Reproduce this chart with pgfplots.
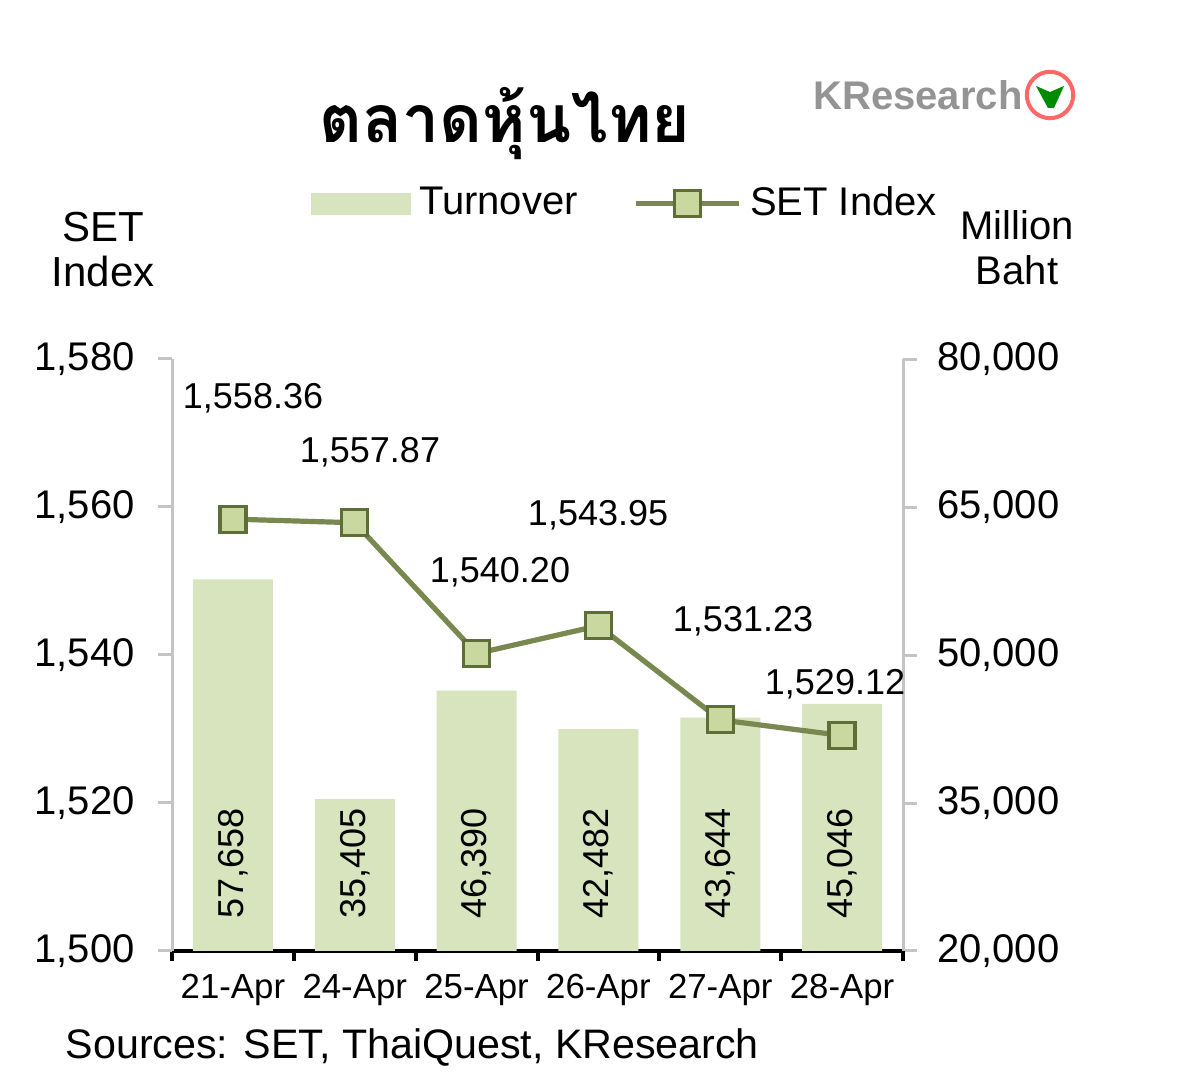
\documentclass[border=0pt]{standalone}
\usepackage{pgfplots}
\pgfplotsset{compat=1.18}
\usepackage{fontspec}
\setmainfont{Liberation Sans}
\newfontfamily\thaifont[Script=Thai]{Loma}
\definecolor{barcol}{HTML}{D7E4BD}
\definecolor{linecol}{HTML}{77894F}
\definecolor{markfill}{HTML}{C8D89F}
\definecolor{markdraw}{HTML}{5E6E37}
\definecolor{axgray}{HTML}{C4C4C4}
\begin{document}
\begin{tikzpicture}
\path[use as bounding box] (0,0) rectangle (300pt,273pt);
\pgfplotsset{
 base/.style={scale only axis, width=182.75pt, height=148pt, at={(43pt,35.25pt)}, anchor=south west,
   xmin=-0.5, xmax=5.5,
   /pgf/number format/assume math mode=true, /pgf/number format/1000 sep={,},
   tick label style={font=\fontsize{10}{12}\selectfont},
   clip=false, tick align=outside, major tick length=3.5pt},
}
% Turnover bars, right axis
\begin{axis}[base, ymin=20000, ymax=80000, axis y line*=right, axis x line*=bottom,
  ytick={20000,35000,50000,65000,80000}, scaled y ticks=false,
  yticklabel style={xshift=1.5pt},
  xtick={0,...,5}, xticklabels={21-Apr,24-Apr,25-Apr,26-Apr,27-Apr,28-Apr},
  xticklabel style={font=\fontsize{8.7}{10}\selectfont, yshift=1.2pt},
  xtick style={draw=none},
  extra x ticks={-0.5,0.5,1.5,2.5,3.5,4.5,5.5}, extra x tick labels={},
  extra x tick style={xtick style={draw=black, line width=1pt}, major tick length=2.5pt},
  x axis line style={black, line width=1pt, -},
  y axis line style={axgray, line width=0.75pt, -},
  ytick style={axgray, line width=0.75pt},
  ]
\addplot[ybar, bar width=20pt, fill=barcol, draw=none] coordinates {(0,57658)(1,35405)(2,46390)(3,42482)(4,43644)(5,45046)};
\begin{scope}[every node/.style={rotate=90, font=\fontsize{9}{11}\selectfont}]
\node at (axis cs:0,28900) {57,658};
\node at (axis cs:1,28900) {35,405};
\node at (axis cs:2,28900) {46,390};
\node at (axis cs:3,28900) {42,482};
\node at (axis cs:4,28900) {43,644};
\node at (axis cs:5,28900) {45,046};
\end{scope}
\end{axis}
% SET Index line, left axis
\begin{axis}[base, ymin=1500, ymax=1580, axis y line*=left, axis x line=none,
  ytick={1500,1520,1540,1560,1580},
  yticklabel style={xshift=-2.3pt},
  y axis line style={axgray, line width=0.75pt, -},
  ytick style={axgray, line width=0.75pt},
  legend style={draw=none, fill=none, at={(0.624,1.262)}, anchor=center, legend columns=2,
    font=\fontsize{10}{12}\selectfont, /tikz/every even column/.append style={column sep=12pt}},
  ]
\addlegendimage{legend image code/.code={\fill[barcol] (0pt,-2.5pt) rectangle (24.5pt,2.5pt);}}
\addlegendentry{Turnover}
\addplot[linecol, line width=1.3pt, mark=square*, mark size=3.25pt,
  mark options={fill=markfill, draw=markdraw, line width=0.8pt},
  legend image code/.code={\draw[linecol, line width=1.3pt] (0pt,0pt) -- (25.8pt,0pt);
     \draw[fill=markfill, draw=markdraw, line width=0.8pt] (9.65pt,-3.25pt) rectangle (16.15pt,3.25pt);}]
  coordinates {(0,1558.36)(1,1557.87)(2,1540.20)(3,1543.95)(4,1531.23)(5,1529.12)};
\addlegendentry{SET Index}
\begin{scope}[every node/.style={font=\fontsize{9}{11}\selectfont}]
\node at (axis cs:0.165,1574.7) {1,558.36};
\node at (axis cs:1.125,1567.4) {1,557.87};
\node at (axis cs:2.192,1551.2) {1,540.20};
\node at (axis cs:2.997,1558.9) {1,543.95};
\node at (axis cs:4.187,1544.5) {1,531.23};
\node at (axis cs:4.942,1536.1) {1,529.12};
\end{scope}
\end{axis}
% titles and labels
\node[font=\thaifont\bfseries\fontsize{16.5}{20}\selectfont, inner sep=0pt] at (126.25pt,242pt) {ตลาดหุ้นไทย};
\node[font=\bfseries\fontsize{10}{12}\selectfont, text=black!42] at (229.5pt,249.25pt) {KResearch};
\draw[red!60!white, line width=1pt] (262.5pt,249.25pt) circle (5.8pt);
\fill[green!55!black] (259pt,251.5pt) -- (262.5pt,250pt) -- (266pt,251.5pt) -- (263.5pt,246pt) -- (262pt,246pt) -- cycle;
\node[align=center, font=\fontsize{10.5}{11.25}\selectfont] at (25.75pt,210.5pt) {SET\\Index};
\node[align=center, font=\fontsize{10}{11.25}\selectfont] at (254.25pt,211pt) {Million\\Baht};
\node[anchor=west, inner sep=0pt, font=\fontsize{10.3}{12}\selectfont] at (16.25pt,11.25pt) {Sources: SET, ThaiQuest, KResearch};
\end{tikzpicture}
\end{document}
